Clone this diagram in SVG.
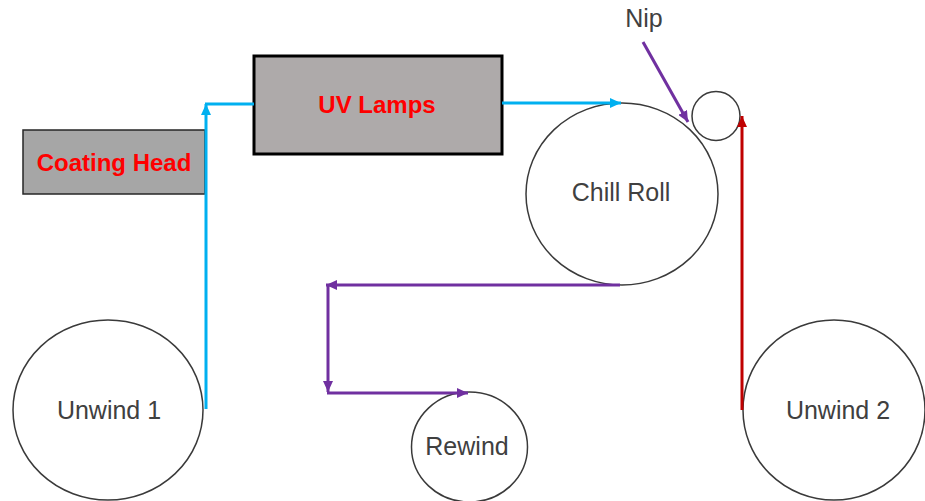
<svg xmlns="http://www.w3.org/2000/svg" width="925" height="501" viewBox="0 0 925 501">
<style>
.roll{fill:#fff;stroke:#3a3a3a;stroke-width:1.5}
.lbl{font-family:"Liberation Sans",Arial,sans-serif;font-size:25px;fill:#404040;text-anchor:middle}
.hd{font-family:"Liberation Sans",Arial,sans-serif;font-size:24px;font-weight:bold;fill:#ff0000;text-anchor:middle}
.blue{stroke:#00b0f0;stroke-width:3;fill:none}
.purple{stroke:#7030a0;stroke-width:3;fill:none}
.red{stroke:#c00000;stroke-width:3;fill:none}
</style>
<defs>
<marker id="aBlue" markerUnits="userSpaceOnUse" markerWidth="12" markerHeight="10" refX="11" refY="5" orient="auto"><path d="M0,0 L11,5 L0,10 z" fill="#00b0f0"/></marker>
<marker id="aPurple" markerUnits="userSpaceOnUse" markerWidth="12" markerHeight="10" refX="11" refY="5" orient="auto"><path d="M0,0 L11,5 L0,10 z" fill="#7030a0"/></marker>
<marker id="aRed" markerUnits="userSpaceOnUse" markerWidth="12" markerHeight="10" refX="11" refY="5" orient="auto"><path d="M0,0 L11,5 L0,10 z" fill="#c00000"/></marker>
</defs>
<rect width="925" height="501" fill="#fff"/>
<g id="coating-head">
<rect x="23" y="130" width="182" height="64" fill="#a6a6a6" stroke="#262626" stroke-width="1.5"/>
<text class="hd" x="114" y="171">Coating Head</text>
</g>
<g id="uv-lamps">
<rect x="254" y="56" width="248" height="98" fill="#aeaaaa" stroke="#000" stroke-width="3"/>
<text class="hd" x="377" y="113">UV Lamps</text>
</g>
<g id="chill-roll">
<ellipse class="roll" cx="622" cy="194" rx="96" ry="91"/>
<text class="lbl" x="621" y="201">Chill  Roll</text>
</g>
<g id="nip-roll">
<ellipse class="roll" cx="716" cy="116" rx="24" ry="24.5"/>
</g>
<g id="nip-label">
<text class="lbl" x="644" y="27">Nip</text>
</g>
<g id="unwind-1">
<ellipse class="roll" cx="108" cy="410" rx="95" ry="90"/>
<text class="lbl" x="109" y="419">Unwind  1</text>
</g>
<g id="unwind-2">
<ellipse class="roll" cx="834" cy="410" rx="91" ry="90"/>
<text class="lbl" x="838" y="419">Unwind  2</text>
</g>
<g id="rewind">
<ellipse class="roll" cx="469.5" cy="447" rx="58" ry="55"/>
<text class="lbl" x="467" y="455">Rewind</text>
</g>
<g id="connectors">
<line class="blue" x1="206" y1="409" x2="206" y2="104" marker-end="url(#aBlue)"/>
<line class="blue" x1="205" y1="104" x2="254" y2="104"/>
<line class="blue" x1="502" y1="103" x2="621" y2="103" marker-end="url(#aBlue)"/>
<line class="purple" x1="643" y1="42" x2="688" y2="122" marker-end="url(#aPurple)"/>
<line class="red" x1="742" y1="410" x2="742" y2="116" marker-end="url(#aRed)"/>
<line class="purple" x1="620" y1="285" x2="326" y2="285" marker-end="url(#aPurple)"/>
<line class="purple" x1="328" y1="284" x2="328" y2="392" marker-end="url(#aPurple)"/>
<line class="purple" x1="327" y1="393" x2="468" y2="393" marker-end="url(#aPurple)"/>
</g>
</svg>
